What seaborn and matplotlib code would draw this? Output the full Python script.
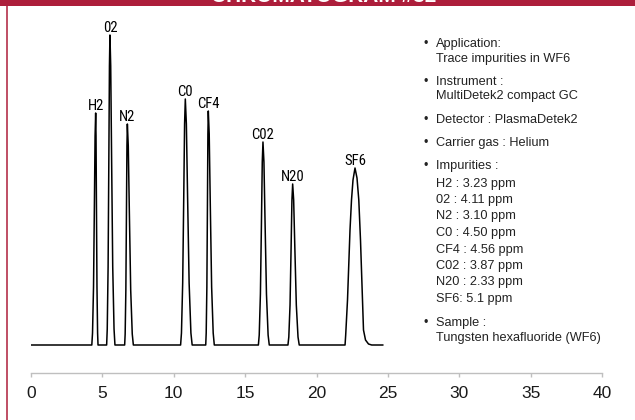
import matplotlib
matplotlib.use("Agg")
import matplotlib.pyplot as plt
import seaborn as sns
import pandas as pd
from matplotlib import font_manager
from matplotlib.font_manager import FontProperties
from matplotlib.patches import Rectangle
from matplotlib.lines import Line2D

# ---------------- data ----------------
peak_names = ["H2", "02", "N2", "C0", "CF4", "C02", "N20", "SF6"]

h2_t = [4.26, 4.31, 4.38, 4.44, 4.489, 4.53, 4.555, 4.585, 4.622, 4.665, 4.695]
h2_y = [0, 12, 58, 139, 209, 232, 209, 139, 58, 12, 0]
o2_t = [5.299, 5.341, 5.401, 5.453, 5.495, 5.53, 5.584, 5.647, 5.725, 5.817, 5.881]
o2_y = [0, 16, 78, 186, 279, 310, 279, 186, 78, 16, 0]
n2_t = [6.561, 6.596, 6.645, 6.687, 6.721, 6.75, 6.814, 6.89, 6.984, 7.093, 7.17]
n2_y = [0, 11, 55, 133, 199, 221, 199, 133, 55, 11, 0]
co_t = [10.48, 10.54, 10.626, 10.70, 10.759, 10.81, 10.884, 10.97, 11.077, 11.202, 11.29]
co_y = [0, 12, 62, 148, 221, 246, 221, 148, 62, 12, 0]
cf4_t = [12.24, 12.273, 12.32, 12.36, 12.392, 12.42, 12.484, 12.56, 12.654, 12.763, 12.84]
cf4_y = [0, 12, 58, 140, 211, 234, 211, 140, 58, 12, 0]
co2_t = [15.929, 15.988, 16.071, 16.143, 16.201, 16.25, 16.318, 16.397, 16.495, 16.61, 16.691]
co2_y = [0, 10, 51, 122, 183, 203, 183, 122, 51, 10, 0]
n2o_t = [18.0, 18.06, 18.146, 18.22, 18.279, 18.33, 18.40, 18.483, 18.586, 18.705, 18.79]
n2o_y = [0, 8, 40, 97, 145, 161, 145, 97, 40, 8, 0]
sf6_t = [22.0, 22.045, 22.172, 22.347, 22.452, 22.557, 22.697, 22.837, 22.963,
         23.082, 23.222, 23.292, 23.433, 23.643, 23.867]
sf6_y = [0, 10, 45, 115, 145, 165, 177, 167, 145, 105, 45, 15, 5, 1, 0]

run_start = [0.0]
run_end = [24.66]

x_ticks = [0, 5, 10, 15, 20, 25, 30, 35, 40]

impurity_names = ["H2", "02", "N2", "C0", "CF4", "C02", "N20", "SF6"]
impurity_ppm = ["3.23", "4.11", "3.10", "4.50", "4.56", "3.87", "2.33", "5.1"]

title_text = "CHROMATOGRAM #32"

# ---------------- build trace ----------------
peaks_t = [h2_t, o2_t, n2_t, co_t, cf4_t, co2_t, n2o_t, sf6_t]
peaks_y = [h2_y, o2_y, n2_y, co_y, cf4_y, co2_y, n2o_y, sf6_y]
trace_time = list(run_start)
trace_signal = [0]
for t, y in zip(peaks_t, peaks_y):
    trace_time += t
    trace_signal += y
trace_time += run_end
trace_signal += [0]
df = pd.DataFrame({"time": trace_time, "signal": trace_signal})

# ---------------- style ----------------
sns.set_style("white")
plt.rcParams["font.family"] = ["Liberation Sans", "DejaVu Sans"]


def find_narrow_font(size):
    ttf = font_manager.fontManager.ttflist
    def ok(f):
        return f.style == "normal" and f.weight in (400, "normal", "regular")
    for wanted in ["Liberation Sans Narrow", "Roboto Condensed", "Open Sans Condensed"]:
        for f in ttf:
            if f.name == wanted and ok(f):
                return FontProperties(fname=f.fname, size=size)
    for f in ttf:
        if f.name in ("DejaVu Sans", "Roboto", "Noto Sans") and ok(f) and \
                "ondensed" in f.fname:
            return FontProperties(fname=f.fname, size=size)
    return FontProperties(family="Liberation Sans", size=size)


label_font = find_narrow_font(10.6)

RED = "#AD1E3B"
W, H = 635, 420

fig = plt.figure(figsize=(6.35, 4.2), dpi=100)
fig.patch.set_facecolor("white")
ax = fig.add_axes([31 / W, 47 / H, 571 / W, 343 / H])

sns.lineplot(data=df, x="time", y="signal", ax=ax, color="black", lw=1.1,
             sort=False, estimator=None)

ax.set_xlim(0, 40)
ax.set_ylim(-28, 315)
ax.set_xticks(x_ticks)
ax.set_xticklabels([str(v) for v in x_ticks])
ax.set_yticks([])
ax.set_xlabel("")
ax.set_ylabel("")
for s in ["left", "right", "top"]:
    ax.spines[s].set_visible(False)
ax.spines["bottom"].set_color("#BFBFBF")
ax.spines["bottom"].set_linewidth(1.0)
ax.tick_params(axis="x", bottom=True, direction="out", length=3, width=1,
               color="#BFBFBF", pad=6.5, labelsize=12.5, labelcolor="#1a1a1a")
ax.patch.set_alpha(0)

# peak labels
for name, t, y in zip(peak_names, peaks_t, peaks_y):
    i = y.index(max(y))
    ax.annotate(name, (t[i], y[i]), xytext=(0, 2.3), textcoords="offset points",
                ha="center", va="baseline", fontproperties=label_font,
                color="black", annotation_clip=False)

# info block
lines = [
    ("bullet", "Application:", 47.3),
    ("", "Trace impurities in WF6", 61.7),
    ("bullet", "Instrument :", 85.0),
    ("", "MultiDetek2 compact GC", 99.0),
    ("bullet", "Detector : PlasmaDetek2", 123.3),
    ("bullet", "Carrier gas : Helium", 146.0),
    ("bullet", "Impurities :", 169.3),
]
imp_base = [187.3, 203.3, 219.3, 236.0, 252.7, 268.7, 285.3, 302.0]
for n, p, yb in zip(impurity_names, impurity_ppm, imp_base):
    sep = ": " if n == "SF6" else " : "
    lines.append(("", f"{n}{sep}{p} ppm", yb))
lines += [("bullet", "Sample :", 326.0), ("", "Tungsten hexafluoride (WF6)", 341.0)]

for kind, s, yb in lines:
    fig.text(436 / W, 1 - yb / H, s, fontsize=9.2, ha="left", va="baseline", color="#222222")
    if kind == "bullet":
        fig.text(426 / W, 1 - yb / H, "\u2022", fontsize=9, ha="center", va="baseline", color="#222222")

# header band and left rule
fig.add_artist(Rectangle((0, 1 - 5.7 / H), 1, 5.7 / H, transform=fig.transFigure,
                         facecolor=RED, edgecolor="none", zorder=5))
fig.text(0.51, 1 - 2.2 / H, title_text, color="white", fontsize=15, fontweight="bold",
         ha="center", va="baseline", zorder=6)
fig.add_artist(Line2D([6.7 / W, 6.7 / W], [0, 1], transform=fig.transFigure,
                      color=RED, lw=1.1, zorder=5))

fig.savefig("out.png", dpi=100)
